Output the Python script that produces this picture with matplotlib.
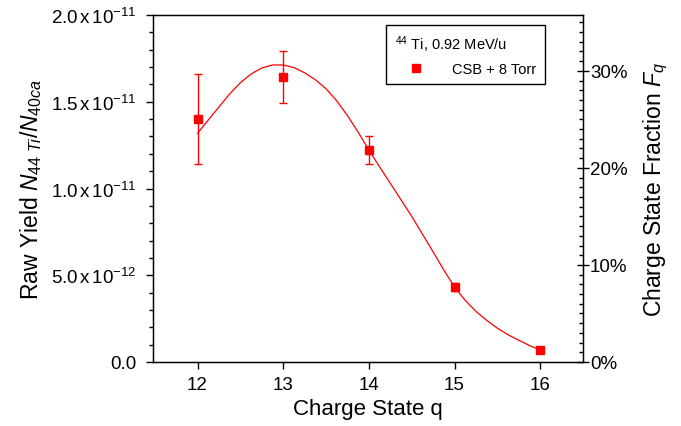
import numpy as np
import matplotlib
matplotlib.use("Agg")
import matplotlib.pyplot as plt
from matplotlib.ticker import MultipleLocator, FixedLocator
from matplotlib.lines import Line2D

plt.rcParams['font.family'] = ['Liberation Sans', 'DejaVu Sans']
plt.rcParams['mathtext.fontset'] = 'custom'
plt.rcParams['mathtext.rm'] = 'Liberation Sans'
plt.rcParams['mathtext.it'] = 'Liberation Sans:italic'
plt.rcParams['mathtext.bf'] = 'Liberation Sans:bold'

# measured raw yields (units of 1e-11)
charge = [12, 13, 14, 15, 16]
yield_val = [1.40, 1.643, 1.222, 0.432, 0.069]
err_up = [0.26, 0.15, 0.08, 0.025, 0.01]
err_dn = [0.26, 0.15, 0.08, 0.025, 0.01]

# fitted charge state distribution
fit_q = [12.0, 12.125, 12.25, 12.375, 12.5, 12.625, 12.75, 12.875, 13.0,
         13.125, 13.25, 13.375, 13.5, 13.625, 13.75, 13.875, 14.0,
         14.125, 14.25, 14.375, 14.5, 14.625, 14.75, 14.875, 15.0,
         15.125, 15.25, 15.375, 15.5, 15.625, 15.75, 15.875, 16.0]
fit_y = [1.318, 1.395, 1.470, 1.545, 1.610, 1.660, 1.695, 1.712, 1.712,
         1.697, 1.667, 1.627, 1.575, 1.505, 1.420, 1.325, 1.222,
         1.125, 1.030, 0.935, 0.840, 0.737, 0.635, 0.530, 0.432,
         0.355, 0.292, 0.240, 0.195, 0.157, 0.125, 0.095, 0.069]

left_ticks = [0.0, 0.5, 1.0, 1.5, 2.0]
left_labels = ["0.0",
               "5.0$\\,$x$\\,$10$^{\\mathregular{-12}}$",
               "1.0$\\,$x$\\,$10$^{\\mathregular{-11}}$",
               "1.5$\\,$x$\\,$10$^{\\mathregular{-11}}$",
               "2.0$\\,$x$\\,$10$^{\\mathregular{-11}}$"]
right_ticks = [0, 10, 20, 30]
right_labels = ["0%", "10%", "20%", "30%"]

red = "#ff0000"

fig = plt.figure(figsize=(6.81, 4.27), dpi=100)
ax = fig.add_axes([0.2247, 0.1499, 0.8561 - 0.2247, 0.9625 - 0.1499])

ax.plot(fit_q, fit_y, color=red, lw=0.9, zorder=2)
ax.errorbar(charge, yield_val, yerr=[err_dn, err_up], fmt='s', color=red,
            ms=6, capsize=2.6, elinewidth=1.0, capthick=1.0, lw=0, zorder=3)

ax.set_xlim(11.48, 16.5)
ax.set_ylim(0, 2.0)
ax.set_xticks(charge)
ax.set_yticks(left_ticks)
ax.set_yticklabels(left_labels)
ax.yaxis.set_minor_locator(MultipleLocator(0.1))
ax.tick_params(axis='both', which='major', direction='out', length=5, width=1,
               labelsize=13.5, pad=5)
ax.tick_params(axis='y', which='major', pad=7)
ax.tick_params(axis='y', which='minor', direction='out', length=3, width=1)
ax.tick_params(axis='x', top=False)
for s in ax.spines.values():
    s.set_linewidth(1.0)

ax.set_xlabel("Charge State q", fontsize=16, labelpad=4)
ax.set_ylabel("Raw Yield $N_{44\\ Ti}$/$N_{40ca}$", fontsize=16.5, labelpad=5)

ax2 = ax.twinx()
ax2.set_ylim(0, 35.75)
ax2.yaxis.set_major_locator(FixedLocator(right_ticks))
ax2.set_yticklabels(right_labels)
ax2.yaxis.set_minor_locator(MultipleLocator(1))
ax2.tick_params(axis='y', which='major', direction='inout', length=8, width=1,
                labelsize=13.5, pad=1)
ax2.tick_params(axis='y', which='minor', direction='in', length=3, width=1)
ax2.set_ylabel("Charge State Fraction $F_q$", fontsize=16.5, labelpad=10)

handle = Line2D([], [], marker='s', color=red, ls='none', ms=6)
leg = ax.legend([handle], ["CSB + 8 Torr"], loc='upper left',
                bbox_to_anchor=(0.542, 0.971), borderaxespad=0,
                title="$^{44}$ Ti, 0.92 MeV/u",
                title_fontsize=10.5, fontsize=10.5, fancybox=False,
                edgecolor='black', framealpha=1, handletextpad=1.0,
                handlelength=2.9, borderpad=0.6, alignment='left')
leg.get_frame().set_linewidth(1.0)

fig.savefig("out.png", dpi=100)
